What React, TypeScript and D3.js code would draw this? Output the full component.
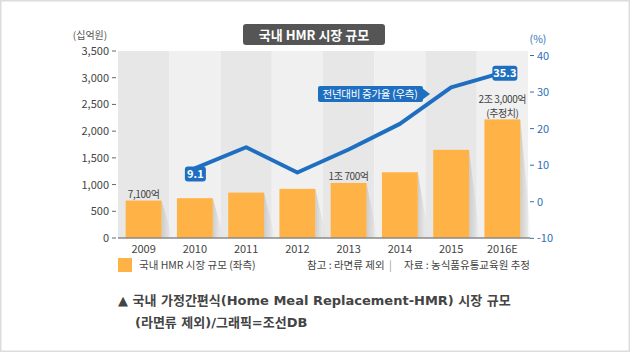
import React from "react";
import * as d3 from "d3";

const categories = ["2009", "2010", "2011", "2012", "2013", "2014", "2015", "2016E"];
const marketSize = [700, 745, 850, 920, 1030, 1230, 1650, 2220];
const growth: (number | null)[] = [null, 9.1, 14.9, 8.0, 14.3, 21.3, 31.3, 35.3];
const leftTicks = [0, 500, 1000, 1500, 2000, 2500, 3000, 3500];
const rightTicks = [-10, 0, 10, 20, 30, 40];
const barLabels: { i: number; lines: string[] }[] = [
  { i: 0, lines: ["7,100억"] },
  { i: 4, lines: ["1조 700억"] },
  { i: 7, lines: ["2조 3,000억", "(추정치)"] },
];

const FONT = "'Noto Sans CJK KR', 'Noto Sans', sans-serif";
const CAPTION_FONT = "'DejaVu Sans', 'Noto Sans CJK KR', sans-serif";

export default function App() {
  const W = 630, H = 352;
  const x0 = 118, x1 = 528;
  const x = d3.scaleBand<string>().domain(categories).range([x0, x1]).paddingInner(0.3).paddingOuter(0.15);
  const band = d3.scaleBand<string>().domain(categories).range([x0, x1]);
  const yL = d3.scaleLinear().domain([0, 3500]).range([238, 51]);
  const yR = d3.scaleLinear().domain([-10, 40]).range([238.3, 55.5]);
  const pts = categories
    .map((c, i) => ({ c, v: growth[i] }))
    .filter((d) => d.v !== null) as { c: string; v: number }[];
  const line = d3
    .line<{ c: string; v: number }>()
    .x((d) => (x(d.c) as number) + x.bandwidth() / 2)
    .y((d) => yR(d.v));
  const cx = (c: string) => (x(c) as number) + x.bandwidth() / 2;
  const blue = "#1f6fc1";
  const orange = "#ffb246";
  const first = pts[0];
  const last = pts[pts.length - 1];

  return (
    <svg width={W} height={H} style={{ position: "absolute", left: 0, top: 0, fontFamily: FONT }}>
      <defs>
        <linearGradient id="shadow" x1="0" y1="0" x2="1" y2="0">
          <stop offset="0" stopColor="#c8c8c8" stopOpacity={0.9} />
          <stop offset="1" stopColor="#d8d8d8" stopOpacity={0} />
        </linearGradient>
      </defs>
      <rect x={0.75} y={0.75} width={W - 1.5} height={H - 1.5} fill="#fff" stroke="#dcdcdc" strokeWidth={1.5} />
      {/* bands */}
      {categories.map((c, i) => (
        <rect key={c} x={band(c)} y={yL(3500)} width={band.bandwidth()} height={yL(0) - yL(3500)} fill={i % 2 === 0 ? "#e7e7e7" : "#f0f0f0"} />
      ))}
      {/* bar shadows */}
      {categories.map((c, i) => {
        const bx = (x(c) as number) + x.bandwidth();
        const top = yL(marketSize[i]);
        const bot = yL(0);
        return <polygon key={"s" + c} points={`${bx},${top} ${bx + 11},${bot} ${bx},${bot}`} fill="url(#shadow)" />;
      })}
      {/* bars */}
      {categories.map((c, i) => (
        <rect key={"b" + c} x={x(c)} y={yL(marketSize[i])} width={x.bandwidth()} height={yL(0) - yL(marketSize[i])} fill={orange} />
      ))}
      {/* bottom axis */}
      <line x1={x0} x2={x1 + 2} y1={238} y2={238} stroke="#8a8a8a" strokeWidth={1.5} />
      {categories.map((c) => (
        <text key={"x" + c} x={cx(c)} y={253} textAnchor="middle" fontSize={11} fill="#444">{c}</text>
      ))}
      {/* left axis */}
      {leftTicks.map((t) => (
        <g key={"l" + t}>
          <line x1={112} x2={116} y1={yL(t)} y2={yL(t)} stroke="#666" strokeWidth={1} />
          <text x={109} y={yL(t) + 4} textAnchor="end" fontSize={11} fill="#444">{d3.format(",")(t)}</text>
        </g>
      ))}
      <text x={90} y={39} textAnchor="middle" fontSize={10} fill="#555">(십억원)</text>
      {/* right axis */}
      {rightTicks.map((t) => (
        <g key={"r" + t}>
          <line x1={530} x2={534} y1={yR(t)} y2={yR(t)} stroke="#2f6fb7" strokeWidth={1} />
          <text x={537} y={yR(t) + 4} textAnchor="start" fontSize={11} fill="#2f6fb7">{t}</text>
        </g>
      ))}
      <text x={538} y={43} textAnchor="middle" fontSize={10.5} fill="#2f6fb7">(%)</text>
      {/* bar labels */}
      {barLabels.map((b) => (
        <text key={"bl" + b.i} x={cx(categories[b.i])} textAnchor="middle" fontSize={10} fill="#444" letterSpacing={-0.4}>
          {b.lines.map((l, k) => (
            <tspan key={k} x={cx(categories[b.i])} y={yL(marketSize[b.i]) - 2.5 - (b.lines.length - 1 - k) * 13.5}>{l}</tspan>
          ))}
        </text>
      ))}
      {/* line */}
      <path d={line(pts) || ""} fill="none" stroke={blue} strokeWidth={4} strokeLinejoin="round" />
      {/* point labels */}
      <g>
        <rect x={cx(first.c) - 10} y={yR(first.v) - 2} width={21} height={15} rx={3} fill={blue} />
        <text x={cx(first.c) + 0.5} y={yR(first.v) + 9.5} textAnchor="middle" fontSize={11} fontWeight="bold" fill="#fff">{first.v}</text>
      </g>
      <g>
        <rect x={cx(last.c) - 10} y={yR(last.v) - 7} width={25} height={15} rx={3} fill={blue} />
        <text x={cx(last.c) + 2.5} y={yR(last.v) + 4.5} textAnchor="middle" fontSize={11} fontWeight="bold" fill="#fff">{last.v}</text>
      </g>
      {/* callout */}
      <g>
        <rect x={318} y={86} width={105} height={16} rx={2} fill={blue} />
        <polygon points="422,88 430,94 422,100" fill={blue} />
        <text x={370} y={98} textAnchor="middle" fontSize={10.5} fill="#fff" letterSpacing={-0.3}>전년대비 증가율 (우측)</text>
      </g>
      {/* title */}
      <rect x={243} y={24} width={142} height={21} rx={3} fill="#555" />
      <text x={314} y={39.5} textAnchor="middle" fontSize={13} fontWeight="bold" fill="#fff">국내 HMR 시장 규모</text>
      {/* legend */}
      <rect x={118} y={258} width={14} height={14} fill={orange} />
      <text x={139} y={269} fontSize={10.5} fill="#444">국내 HMR 시장 규모 (좌측)</text>
      <text x={307} y={269} fontSize={10.5} fill="#444">참고 : 라면류 제외</text>
      <text x={389} y={269} fontSize={10.5} fill="#999">|</text>
      <text x={530} y={269} textAnchor="end" fontSize={10.5} fill="#444">자료 : 농식품유통교육원 추정</text>
      {/* caption */}
      <text x={118} y={305} fontSize={13} fontWeight="bold" fill="#444" fontFamily={CAPTION_FONT}>▲ 국내 가정간편식(Home Meal Replacement-HMR) 시장 규모</text>
      <text x={135} y={327} fontSize={13} fontWeight="bold" fill="#444" fontFamily={CAPTION_FONT}>(라면류 제외)/그래픽=조선DB</text>
    </svg>
  );
}
